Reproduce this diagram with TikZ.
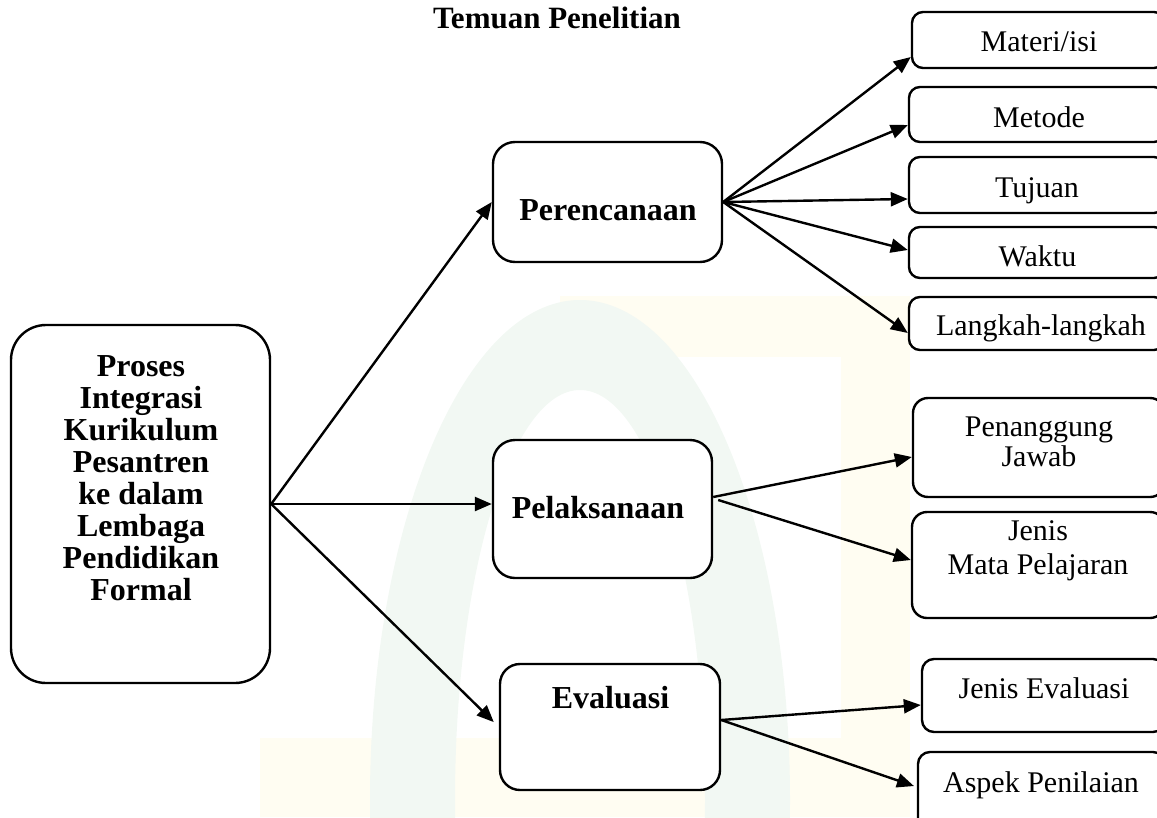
\documentclass[tikz,border=0pt]{standalone}
\usepackage{fontspec}
\setmainfont{Liberation Serif}
\usetikzlibrary{arrows.meta}
\definecolor{wmyellow}{RGB}{255,253,242}
\definecolor{wmgreen}{RGB}{242,248,243}
\tikzset{
  box/.style={draw, line width=2.4pt, fill=white, inner sep=0pt},
  bigbox/.style={box, rounded corners=35pt},
  midbox/.style={box, rounded corners=22pt},
  leafbox/.style={box, rounded corners=11pt},
  conn/.style={line width=2.4pt, -{Triangle[length=17pt,width=14pt]}},
  lbl/.style={font=\fontsize{30}{30}\selectfont, align=center, inner sep=0pt},
  hlbl/.style={font=\fontsize{32}{31.9}\selectfont\bfseries, align=center, inner sep=0pt},
}
\begin{document}
\begin{tikzpicture}[x=1pt,y=-1pt]
\useasboundingbox (0,0) rectangle (1157,817);
\clip (0,0) rectangle (1157,817);

% faint background emblem
\fill[wmyellow] (841,296) rectangle (910,817);
\fill[wmyellow] (560,296) rectangle (841,357);
\fill[wmyellow] (260,738) rectangle (841,817);
\fill[wmgreen, even odd rule] (580,800) ellipse [x radius=210, y radius=500]
                              (580,800) ellipse [x radius=125, y radius=410];

% title
\node[font=\fontsize{31}{36}\selectfont\bfseries, anchor=base, inner sep=0pt] (title) at (557,28) {Temuan Penelitian};

% main box
\node[bigbox, minimum width=259pt, minimum height=358pt] (main) at (140.5,504) {};
\node[hlbl] (mainlbl) at (141,478.2) {Proses\\Integrasi\\Kurikulum\\Pesantren\\ke dalam\\Lembaga\\Pendidikan\\Formal};

% stages
\node[midbox, minimum width=229pt, minimum height=120pt] (per) at (607.5,202) {};
\node[hlbl, anchor=base] (perlbl) at (608,220) {Perencanaan};
\node[midbox, minimum width=219pt, minimum height=138pt] (pel) at (602.5,509) {};
\node[hlbl, anchor=base] (pellbl) at (598,518) {Pelaksanaan};
\node[midbox, rounded corners=20pt, minimum width=220pt, minimum height=126pt] (eva) at (610,727) {};
\node[hlbl, anchor=base] (evalbl) at (610.5,708) {Evaluasi};

% details
\node[leafbox, minimum width=253pt, minimum height=56pt] (materi) at (1038.5,40) {};
\node[lbl, anchor=base] at (1039,51) {Materi/isi};
\node[leafbox, minimum width=256pt, minimum height=55pt] (metode) at (1037,114.5) {};
\node[lbl, anchor=base] at (1039,127) {Metode};
\node[leafbox, minimum width=256pt, minimum height=56pt] (tujuan) at (1037,185) {};
\node[lbl, anchor=base] at (1037,197) {Tujuan};
\node[leafbox, minimum width=256pt, minimum height=51pt] (waktu) at (1037,252.5) {};
\node[lbl, anchor=base] at (1037.5,266) {Waktu};
\node[leafbox, minimum width=256pt, minimum height=53pt] (langkah) at (1037,323.5) {};
\node[lbl, anchor=base] at (1041,335) {Langkah-langkah};

\node[leafbox, rounded corners=15pt, minimum width=252pt, minimum height=99pt] (pj) at (1039,447.5) {};
\node[lbl] at (1039,442) {Penanggung\\Jawab};
\node[leafbox, rounded corners=15pt, minimum width=253pt, minimum height=106pt] (jmp) at (1038.5,565) {};
\node[lbl, font=\fontsize{30}{34}\selectfont] at (1038,551) {Jenis\\Mata Pelajaran};

\node[leafbox, rounded corners=12pt, minimum width=243pt, minimum height=73pt] (jev) at (1043.5,695.5) {};
\node[lbl, anchor=base] at (1044,698) {Jenis Evaluasi};
\node[leafbox, rounded corners=12pt, minimum width=247pt, minimum height=78pt] (asp) at (1041.5,791) {};
\node[lbl, anchor=base] at (1041,792) {Aspek Penilaian};

% connectors from the main box
\draw[conn] (main.east) -- (per.west);
\draw[conn] (main.east) -- (main.east -| pel.west);
\draw[conn, shorten >=7pt] (main.east) -- (eva.west);

% connectors from Perencanaan
\draw[conn] (per.east) -- ([yshift=-17pt]materi.west);
\draw[conn] (per.east) -- ([yshift=-10.5pt]metode.west);
\draw[conn] (per.east) -- ([yshift=-14pt]tujuan.west);
\draw[conn] (per.east) -- ([yshift=2.5pt]waktu.west);
\draw[conn] (per.east) -- ([yshift=-9.5pt]langkah.west);

% connectors from Pelaksanaan
\draw[conn] ([yshift=12pt]pel.east) -- ([yshift=-9.5pt]pj.west);
\draw[conn] ([xshift=5pt,yshift=9pt]pel.east) -- ([yshift=5pt]jmp.west);

% connectors from Evaluasi
\draw[conn] ([yshift=7pt]eva.east) -- ([yshift=-9.5pt]jev.west);
\draw[conn, shorten >=3pt] ([yshift=7pt]eva.east) -- ([yshift=4pt]asp.west);
\end{tikzpicture}
\end{document}
